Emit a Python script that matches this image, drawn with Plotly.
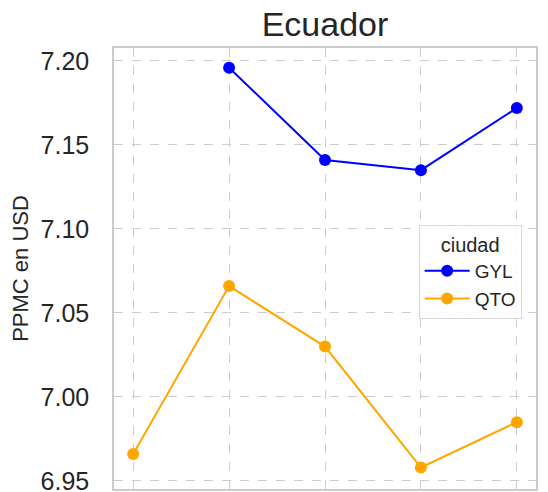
import plotly.graph_objects as go

x_idx = [0, 1, 2, 3, 4]
gyl = [None, 7.196, 7.141, 7.135, 7.172]
qto = [6.966, 7.066, 7.030, 6.958, 6.985]
y_ticks = [6.95, 7.00, 7.05, 7.10, 7.15, 7.20]

fig = go.Figure()
fig.add_trace(go.Scatter(x=x_idx, y=gyl, mode="lines+markers", name="GYL",
                         line=dict(color="blue", width=2), marker=dict(size=12, color="blue")))
fig.add_trace(go.Scatter(x=x_idx, y=qto, mode="lines+markers", name="QTO",
                         line=dict(color="orange", width=2), marker=dict(size=12, color="orange")))

fig.update_layout(
    width=540, height=484,
    margin=dict(l=106, r=12, t=40, b=3),
    paper_bgcolor="white", plot_bgcolor="white",
    font=dict(family="Liberation Sans, Arial, sans-serif", color="#262626"),
    title=dict(text="Ecuador", x=0.5, xanchor="center", xref="paper", y=1 - 16 / 484, yanchor="middle",
               font=dict(size=34, color="#262626")),
    legend=dict(title=dict(text="ciudad", side="top center", font=dict(size=20)),
                font=dict(size=19), x=0.966, xanchor="right", y=0.599, yanchor="top",
                bgcolor="rgba(255,255,255,0.85)", bordercolor="#d8d8d8", borderwidth=1,
                tracegroupgap=0, itemwidth=45),
    showlegend=True,
)
fig.update_xaxes(range=[-0.2, 4.2], tickvals=x_idx, showticklabels=False, automargin=False,
                 showgrid=True, gridcolor="#cccccc", griddash="dash", gridwidth=1,
                 showline=True, mirror=True, linecolor="#cccccc", linewidth=1.5,
                 zeroline=False, ticks="")
fig.update_yaxes(range=[6.9452, 7.2077], tickvals=y_ticks, tickformat=".2f", automargin=False,
                 tickfont=dict(size=25), ticks="", ticklabelstandoff=18, ticklabeloverflow="allow",
                 title=dict(text="PPMC en USD", font=dict(size=22)),
                 showgrid=True, gridcolor="#cccccc", griddash="dash", gridwidth=1,
                 showline=True, mirror=True, linecolor="#cccccc", linewidth=1.5,
                 zeroline=False)
fig.write_html("out.html")
